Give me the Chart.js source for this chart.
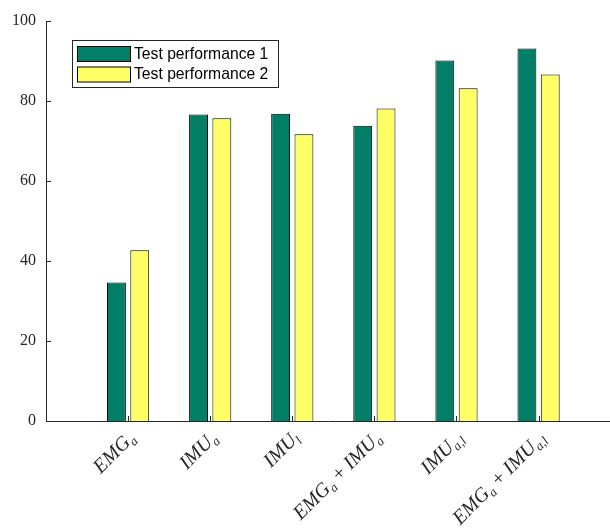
<!DOCTYPE html>
<html>
<head>
<meta charset="utf-8">
<script src="https://cdn.jsdelivr.net/npm/chart.js@4.4.1/dist/chart.umd.min.js"></script>
<style>
  html, body { margin: 0; padding: 0; background: #ffffff; }
  #c { display: block; }
</style>
</head>
<body>
<canvas id="c" width="610" height="531"></canvas>
<script>
// Feature sets on the x axis, each label split into [text, kind] parts:
// 'm' = math italic, 'r' = upright operator, 's' = italic subscript
const positions = [1, 2, 3, 4, 5, 6];
const categories = [
  [['EMG', 'm'], ['a', 's']],
  [['IMU', 'm'], ['a', 's']],
  [['IMU', 'm'], ['l', 's']],
  [['EMG', 'm'], ['a', 's'], [' + ', 'r'], ['IMU', 'm'], ['a', 's']],
  [['IMU', 'm'], ['a,l', 's']],
  [['EMG', 'm'], ['a', 's'], [' + ', 'r'], ['IMU', 'm'], ['a,l', 's']]
];
const seriesNames = ['Test performance 1', 'Test performance 2'];
const perf1 = [34.6, 76.6, 76.8, 73.8, 90.1, 93.1];
const perf2 = [42.7, 75.7, 71.7, 78.1, 83.2, 86.6];
const yTicks = [0, 20, 40, 60, 80, 100];

const AXIS = '#262626';
const fillColors = ['#007f66', '#ffff66'];

function fontFor(kind) {
  if (kind === 's') return 'italic 13px "Liberation Serif"';
  if (kind === 'r') return '20px "Liberation Serif"';
  return 'italic 20px "Liberation Serif"';
}

// Short tick marks pointing into the plot area
const inwardTicks = {
  id: 'inwardTicks',
  beforeDatasetsDraw(chart) {
    const { ctx, scales: { x, y } } = chart;
    ctx.save();
    ctx.strokeStyle = AXIS;
    ctx.lineWidth = 1;
    ctx.beginPath();
    yTicks.forEach(v => {
      const py = Math.round(y.getPixelForValue(v)) + 0.5;
      ctx.moveTo(x.left, py);
      ctx.lineTo(x.left + 5, py);
    });
    positions.forEach(p => {
      const px = Math.round(x.getPixelForValue(p)) + 0.5;
      ctx.moveTo(px, y.bottom);
      ctx.lineTo(px, y.bottom - 5);
    });
    ctx.stroke();
    ctx.restore();
  }
};

// Rotated category labels with subscripts, ending at each tick
const mathLabels = {
  id: 'mathLabels',
  afterDraw(chart) {
    const { ctx, scales: { x, y } } = chart;
    ctx.save();
    ctx.fillStyle = AXIS;
    ctx.textAlign = 'left';
    ctx.textBaseline = 'alphabetic';
    categories.forEach((parts, i) => {
      let w = 0;
      parts.forEach(([t, k]) => { ctx.font = fontFor(k); w += ctx.measureText(t).width; });
      const px = x.getPixelForValue(positions[i]);
      ctx.save();
      ctx.translate(px + 8, y.bottom + 18);
      ctx.rotate(-Math.PI / 4);
      let cx = -w;
      parts.forEach(([t, k]) => {
        ctx.font = fontFor(k);
        ctx.fillText(t, cx, k === 's' ? 4 : 0);
        cx += ctx.measureText(t).width;
      });
      ctx.restore();
    });
    ctx.restore();
  }
};

// Boxed legend inside the upper-left of the plot
const boxLegend = {
  id: 'boxLegend',
  afterDraw(chart) {
    const { ctx } = chart;
    const bx = 72.5, by = 40.5, bw = 206, bh = 47;
    ctx.save();
    ctx.fillStyle = '#ffffff';
    ctx.fillRect(bx, by, bw, bh);
    ctx.strokeStyle = AXIS;
    ctx.lineWidth = 1;
    ctx.strokeRect(bx, by, bw, bh);
    ctx.font = '15.7px "Liberation Sans"';
    ctx.textBaseline = 'middle';
    ctx.textAlign = 'left';
    chart.data.datasets.forEach((ds, i) => {
      const sy = 46.5 + i * 20.5;
      ctx.fillStyle = ds.backgroundColor;
      ctx.fillRect(77.5, sy, 53, 15);
      ctx.strokeStyle = '#000000';
      ctx.strokeRect(77.5, sy, 53, 15);
      ctx.fillStyle = '#000000';
      ctx.fillText(ds.label, 134, sy + 8);
    });
    ctx.restore();
  }
};

new Chart(document.getElementById('c'), {
  type: 'bar',
  data: {
    datasets: [
      {
        label: seriesNames[0],
        data: positions.map((p, i) => ({ x: p, y: perf1[i] })),
        backgroundColor: fillColors[0],
        borderColor: '#000000',
        borderWidth: 1,
        borderSkipped: 'start'
      },
      {
        label: seriesNames[1],
        data: positions.map((p, i) => ({ x: p, y: perf2[i] })),
        backgroundColor: fillColors[1],
        borderColor: '#000000',
        borderWidth: 1,
        borderSkipped: 'start'
      }
    ]
  },
  options: {
    responsive: false,
    animation: false,
    devicePixelRatio: 1,
    categoryPercentage: 0.568,
    barPercentage: 0.81,
    layout: { padding: { top: 21, right: 0, bottom: 0, left: 0 } },
    plugins: {
      legend: { display: false },
      tooltip: { enabled: false }
    },
    scales: {
      x: {
        type: 'linear',
        min: 0,
        max: 6.87,
        offset: false,
        afterBuildTicks(scale) { scale.ticks = positions.map(v => ({ value: v })); },
        grid: { display: false, drawTicks: false, offset: false },
        border: { display: true, color: AXIS, width: 1 },
        ticks: { display: false },
        afterFit(scale) { scale.height = 110; }
      },
      y: {
        min: 0,
        max: 100,
        grid: { display: false, drawTicks: false },
        border: { display: true, color: AXIS, width: 1 },
        ticks: {
          stepSize: 20,
          padding: 10,
          color: AXIS,
          font: { family: '"Liberation Serif"', size: 16 }
        },
        afterFit(scale) { scale.width = 46; }
      }
    }
  },
  plugins: [inwardTicks, mathLabels, boxLegend]
});
</script>
</body>
</html>
